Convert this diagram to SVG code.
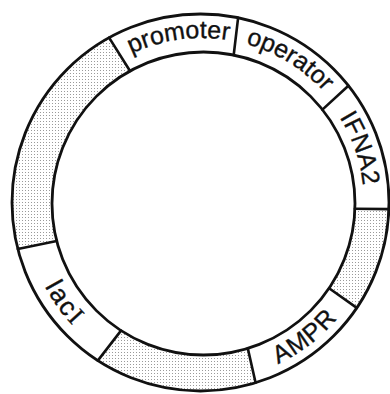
<svg xmlns="http://www.w3.org/2000/svg" xmlns:xlink="http://www.w3.org/1999/xlink" width="390" height="394" viewBox="0 0 390 394">
  <style>
    .ring { fill: none; stroke: #111; stroke-width: 2.8; }
    .div { stroke: #111; stroke-width: 2.6; stroke-linecap: round; }
    .shade { fill: url(#stipple); stroke: none; }
    .lbl { font-family: "Liberation Sans", Arial, Helvetica, sans-serif; font-size: 25px; fill: #111; stroke: #111; stroke-width: 0.35; }
  </style>
  <defs>
    <pattern id="stipple" width="3" height="3" patternUnits="userSpaceOnUse">
      <rect width="3" height="3" fill="#ffffff"/>
      <rect x="1" y="1" width="1" height="1" fill="#9a9a9a"/>
    </pattern>
    <!-- arcs centred at origin, for labels -->
    <path id="topArc165" d="M -142.9 -82.5 A 165 165 0 0 1 142.9 -82.5"/>
    <path id="topArc162" d="M -140.3 -81 A 162 162 0 0 1 140.3 -81"/>
    <path id="botArc178" d="M -154.2 89 A 178 178 0 0 0 154.2 89"/>
  </defs>

  <rect width="390" height="394" fill="#ffffff"/>

  <g id="seg-shaded-left">
    <path class="shade" d="M 17.8 249.1 A 188.5 188.5 0 0 1 109.1 37.6 L 130.05 71.0 A 151.5 151.5 0 0 0 56.7 240.9 Z"/>
  </g>
  <g id="seg-promoter">
    <text class="lbl" transform="translate(202,203) rotate(-8)"><textPath xlink:href="#topArc165" href="#topArc165" startOffset="50%" text-anchor="middle">promoter</textPath></text>
  </g>
  <g id="seg-operator">
    <text class="lbl" transform="translate(202,203) rotate(31.5)"><textPath xlink:href="#topArc165" href="#topArc165" startOffset="50%" text-anchor="middle">operator</textPath></text>
  </g>
  <g id="seg-IFNA2">
    <text class="lbl" transform="translate(202,203) rotate(71)" letter-spacing="0.5"><textPath xlink:href="#topArc162" href="#topArc162" startOffset="50%" text-anchor="middle">IFNA2</textPath></text>
  </g>
  <g id="seg-shaded-right">
    <path class="shade" d="M 388.9 209.1 A 188.5 188.5 0 0 1 356.8 307.9 L 329.1 288.2 A 151.5 151.5 0 0 0 354.9 208.8 Z"/>
  </g>
  <g id="seg-AMPR">
    <text class="lbl" transform="translate(202,203) rotate(-37.5)" letter-spacing="1"><textPath xlink:href="#botArc178" href="#botArc178" startOffset="50%" text-anchor="middle">AMPR</textPath></text>
  </g>
  <g id="seg-shaded-bottom">
    <path class="shade" d="M 255.6 382.8 A 188.5 188.5 0 0 1 97.8 360.6 L 121.0 330.6 A 151.5 151.5 0 0 0 247.8 348.4 Z"/>
  </g>
  <g id="seg-lacI">
    <text class="lbl" transform="translate(202,203) rotate(54)" style="font-size:26px" letter-spacing="2"><textPath xlink:href="#botArc178" href="#botArc178" startOffset="50%" text-anchor="middle">lac<tspan font-family="Liberation Serif, serif">I</tspan></textPath></text>
  </g>

  <g id="connectors">
    <circle class="ring" cx="200.5" cy="202.5" r="188.5"/>
    <circle class="ring" cx="203.5" cy="203.5" r="151.5"/>
    <line class="div" x1="109.1" y1="37.6" x2="130.05" y2="71.0"/>
    <line class="div" x1="238.1" y1="17.8" x2="233.7" y2="55.0"/>
    <line class="div" x1="348.4" y1="85.7" x2="322.4" y2="109.6"/>
    <line class="div" x1="388.9" y1="209.1" x2="354.9" y2="208.8"/>
    <line class="div" x1="356.8" y1="307.9" x2="329.1" y2="288.2"/>
    <line class="div" x1="255.6" y1="382.8" x2="247.8" y2="348.4"/>
    <line class="div" x1="97.8" y1="360.6" x2="121.0" y2="330.6"/>
    <line class="div" x1="17.8" y1="249.1" x2="56.7" y2="240.9"/>
  </g>
</svg>
